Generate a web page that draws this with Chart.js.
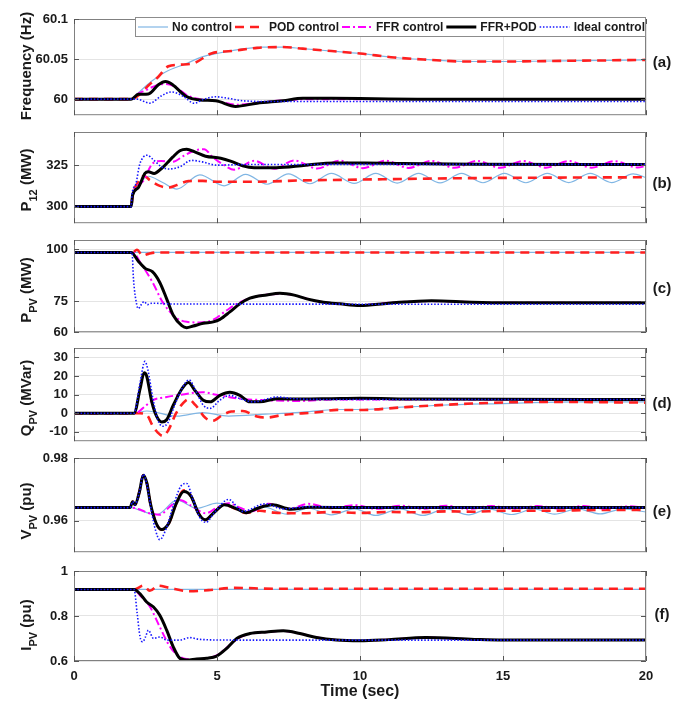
<!DOCTYPE html>
<html>
<head>
<meta charset="utf-8">
<script src="https://cdn.jsdelivr.net/npm/chart.js"></script>
<style>
  body { margin: 0; background: #fff; width: 680px; height: 704px; position: relative; overflow: hidden; }
  canvas { position: absolute; left: 0; }
</style>
</head>
<body>
<script>
// ---- data: [time (s), value] ----
const timeTicks = [0, 5, 10, 15, 20];
const seriesNames = ['No control', 'POD control', 'FFR control', 'FFR+POD', 'Ideal control'];

// (a) frequency (Hz)
const freqTicks = [60, 60.05, 60.1];
const freqNo = [[0,60],[2,60],[2.25,60.008],[2.7,60.022],[3.2,60.034],[3.9,60.044],[4.5,60.053],[5,60.057],[5.8,60.062],[6.6,60.065],[7.3,60.065],[8,60.063],[9,60.06],[10,60.057],[11.2,60.052],[12.5,60.049],[13.6,60.047],[15,60.047],[17.5,60.048],[20,60.049]];
const freqPod = [[0,60],[2,60],[2.3,60.006],[2.6,60.017],[2.95,60.028],[3.3,60.041],[3.7,60.043],[4.2,60.045],[4.8,60.057],[5.5,60.06],[6.4,60.064],[7.3,60.065],[8,60.063],[9,60.06],[10,60.057],[11.2,60.052],[12.5,60.049],[13.6,60.047],[15,60.047],[17.5,60.048],[20,60.049]];
const freqFfr = [[0,60],[2,60],[2.25,60.007],[2.5,60.011],[2.8,60.016],[3.2,60.019],[3.5,60.016],[4,60.004],[4.4,60.0],[4.95,59.998],[5.7,59.993],[6.5,59.996],[7.5,59.999],[8.5,60.0],[20,60.0]];
const freqBoth = [[0,60],[2,60],[2.25,60.006],[2.6,60.0065],[2.95,60.018],[3.2,60.022],[3.45,60.018],[3.9,60.004],[4.4,59.999],[4.95,59.998],[5.65,59.991],[6.4,59.995],[7.3,59.998],[8,60.001],[9,60.001],[10.5,60.0005],[12,60.0],[20,60.0]];
const freqIdeal = [[0,60],[2.2,60],[2.65,59.995],[3.05,60.004],[3.4,60.009],[3.8,60.004],[4.2,59.995],[4.55,60.0],[4.95,60.003],[5.4,60.001],[5.9,59.998],[7,59.997],[20,59.997]];

// (b) P12 (MW)
const p12Ticks = [300, 325];
const p12No = [[0,300],[2,300],[2.05,307],[2.3,314],[2.6,318.3],[3.1,314.5],[3.6,310.6],[4.4,319.2],[5.25,312.5],[6.0,319.5],[6.75,313.5],[7.5,319.8],[8.25,313.8],[9.0,320],[9.8,314],[10.55,320],[11.3,314.2],[12.05,320],[12.8,314.3],[13.55,320],[14.3,314.4],[15.05,320],[15.8,314.4],[16.55,320],[17.3,314.5],[18.05,320],[18.8,314.5],[19.55,319.8],[20,317.5]];
const p12Pod = [[0,300],[2,300],[2.05,307],[2.2,313.5],[2.45,318.5],[2.65,316],[3.0,312.5],[3.3,311.5],[3.6,313],[4.0,315.4],[4.5,315.5],[5,315],[6.3,315],[8,315.8],[10,316.3],[12,316.8],[14,317.2],[17,317.5],[20,317.7]];
const p12Ffr = [[0,300],[2,300],[2.05,307],[2.4,315],[2.75,326],[3.05,327.5],[3.45,327],[3.85,330.8],[4.3,334.2],[4.55,334.6],[4.85,329.8],[5.25,325],[5.6,322.3],[6.3,327.6],[7.0,322.8],[7.7,327.8],[8.5,323],[9.3,327.7],[10.1,323.2],[10.9,327.7],[11.7,323.3],[12.5,327.6],[13.3,323.4],[14.1,327.6],[14.9,323.4],[15.7,327.5],[16.5,323.5],[17.3,327.5],[18.1,323.5],[18.9,327.4],[19.7,323.6],[20,324.5]];
const p12Both = [[0,300],[2,300],[2.05,307],[2.25,311.5],[2.48,320],[2.6,321],[2.8,320],[3.06,323],[3.45,329.8],[3.7,333.7],[3.94,334.6],[4.22,333],[4.6,330.4],[5.13,329.2],[5.5,327.3],[5.9,324.6],[6.3,323.5],[7.07,323.5],[8.1,325],[9.1,326.3],[10.2,326.3],[11.5,326],[14,325.6],[20,325.4]];
const p12Ideal = [[0,300],[2,300],[2.03,307.7],[2.16,313.5],[2.29,325],[2.42,329.8],[2.57,331],[2.74,328.8],[3.06,324],[3.32,322.7],[3.7,324],[4.1,327.9],[4.48,327],[5.0,325],[6,325.4],[20,325.5]];

// (c) P_PV (MW)
const ppvTicks = [60, 75, 100];
const ppvNo = [[0,98.5],[20,98.5]];
const ppvPod = [[0,98.5],[2.05,98.5],[2.2,99.8],[2.4,97],[2.6,97.8],[2.9,98.5],[20,98.5]];
const ppvFfr = [[0,98.5],[2.05,98.5],[2.36,92.7],[2.75,84],[3.1,74.5],[3.57,67],[3.94,65],[4.4,64.7],[4.87,66],[5.34,70.6],[5.8,74.5],[6.5,77.6],[7.2,78.5],[7.7,77.9],[8.14,76.1],[8.72,74.5],[9.3,73.7],[10,73],[11,74.2],[12.5,75],[13.9,74.5],[15.1,74.2],[20,74.2]];
const ppvBoth = [[0,98.5],[2.0,98.5],[2.25,94.3],[2.5,90.7],[2.74,89.2],[3.0,84],[3.24,76.1],[3.47,68.2],[3.77,63.2],[3.94,62.2],[4.17,63],[4.52,64.3],[4.87,65],[5.1,66.2],[5.45,69.8],[5.8,73.7],[6.15,76.4],[6.74,78],[7.2,78.8],[7.7,77.9],[8.14,76.1],[8.72,74.5],[9.3,73.7],[10,72.9],[11,74],[12.5,75.2],[13.9,74.5],[15.1,74.2],[20,74.2]];
const ppvIdeal = [[0,98.5],[2.03,98.5],[2.08,85.6],[2.2,72.9],[2.25,71.4],[2.37,73.7],[2.45,74.8],[2.57,73.3],[2.72,74],[3.5,73.6],[20,73.5]];

// (d) Q_PV (MVar)
const qpvTicks = [-10, 0, 10, 20, 30];
const qpvNo = [[0,0],[2.1,0],[2.55,1.2],[3.6,-1.6],[4.5,0.3],[5.4,-1.5],[6.7,-0.5],[7.9,0.5],[9.2,2],[10,2],[11,2.8],[12.8,4.3],[15,5.2],[17.5,6.1],[20,6.1]];
const qpvPod = [[0,0],[2.3,0],[2.55,-1],[2.76,-7],[2.93,-10.4],[3.1,-12.2],[3.28,-9.6],[3.57,0],[3.8,5.2],[4.0,7.5],[4.25,4.3],[4.6,-2.6],[4.85,-4],[5.2,-0.9],[5.5,0.9],[5.9,1.2],[6.4,-1.7],[6.75,-2.3],[7.3,-0.9],[8.5,0.5],[9.2,1.8],[10,1.7],[11.6,3.3],[13.9,5.2],[16.3,6.1],[20,5.7]];
const qpvFfr = [[0,0],[2.15,0],[2.4,2.6],[2.76,7],[3.24,8.7],[3.8,10.1],[4.5,11.3],[4.98,9.9],[5.8,7.8],[6.7,7],[7.9,6.6],[9,7.4],[20,7.4]];
const qpvBoth = [[0,0],[2.1,0],[2.31,13],[2.45,21.7],[2.54,20],[2.72,6.1],[2.89,-1.7],[3.07,-4.7],[3.24,-3.5],[3.47,4.3],[3.77,13],[4.0,16.5],[4.23,12.2],[4.52,7],[4.76,6.1],[5.1,9.6],[5.45,11.3],[5.8,9.6],[6.15,6.1],[6.5,6.1],[7.1,7.8],[8,7.6],[9,7.8],[10,8],[12,7.6],[20,7.4]];
const qpvIdeal = [[0,0],[2.1,0],[2.31,16.5],[2.48,27.8],[2.58,23.5],[2.76,7.8],[2.93,-3.5],[3.1,-7],[3.28,-5.2],[3.5,3.5],[3.8,13.9],[4.02,17.9],[4.28,11.3],[4.52,4.3],[4.76,2.6],[5.1,7],[5.45,9.6],[5.8,7.8],[6.27,6.1],[7.1,8.7],[7.7,7.8],[9,7.4],[20,7.4]];

// (e) V_PV (pu)
const vpvTicks = [0.96, 0.98];
const vpvNo = [[0,0.9642],[2.0,0.9642],[2.4,0.963],[2.9,0.962],[3.6,0.9666],[4.3,0.964],[5.0,0.9656],[5.5,0.9645],[6.0,0.963],[6.6,0.9645],[7.45,0.9621],[8.2,0.964],[9.0,0.9619],[9.8,0.9638],[10.55,0.9617],[11.4,0.9638],[12.2,0.9617],[13.0,0.9638],[13.8,0.9619],[14.5,0.9638],[15.3,0.962],[16.1,0.9638],[16.8,0.9621],[17.6,0.9638],[18.4,0.9622],[19.2,0.9638],[20,0.9628]];
const vpvPod = [[0,0.9642],[1.96,0.9642],[2.05,0.9661],[2.13,0.9651],[2.29,0.9693],[2.42,0.9745],[2.55,0.9719],[2.67,0.9656],[2.87,0.9593],[3.06,0.9572],[3.32,0.9593],[3.58,0.9656],[3.84,0.9697],[4.1,0.9677],[4.35,0.9624],[4.59,0.9603],[4.87,0.9624],[5.26,0.9651],[5.65,0.9638],[6.0,0.9625],[6.5,0.9632],[7,0.9626],[8,0.9624],[9,0.9628],[10,0.9625],[11,0.9628],[12,0.9627],[13,0.963],[14,0.9629],[15,0.9632],[16.5,0.9632],[18,0.9634],[20,0.9635]];
const vpvFfr = [[0,0.9642],[2.0,0.9642],[2.3,0.9636],[2.6,0.9625],[3.0,0.9619],[3.35,0.9645],[3.7,0.9666],[4.1,0.9648],[4.6,0.9624],[5.0,0.9642],[5.4,0.9656],[5.8,0.9642],[6.2,0.963],[6.8,0.9654],[7.5,0.9638],[8.2,0.9654],[9,0.964],[9.8,0.965],[10.6,0.9638],[11.4,0.9648],[12.2,0.9638],[13,0.9648],[13.8,0.9638],[14.6,0.9647],[15.4,0.9638],[16.2,0.9647],[17,0.9639],[17.8,0.9647],[18.6,0.9639],[19.4,0.9646],[20,0.9642]];
const vpvBoth = [[0,0.9642],[1.96,0.9642],[2.05,0.9661],[2.13,0.9651],[2.29,0.9693],[2.42,0.9745],[2.55,0.9719],[2.67,0.9656],[2.87,0.9593],[3.06,0.9572],[3.32,0.9593],[3.58,0.9656],[3.84,0.9693],[4.1,0.9677],[4.35,0.9624],[4.59,0.9603],[4.87,0.9624],[5.26,0.9651],[5.65,0.964],[6.03,0.9626],[6.42,0.964],[6.94,0.9651],[7.58,0.9637],[8.23,0.9643],[10,0.9642],[20,0.9642]];
const vpvIdeal = [[0,0.9642],[1.96,0.9642],[2.05,0.9661],[2.13,0.9651],[2.29,0.9693],[2.42,0.9748],[2.55,0.9715],[2.7,0.9635],[2.85,0.957],[3.0,0.954],[3.2,0.957],[3.5,0.9656],[3.75,0.9712],[3.94,0.9719],[4.15,0.967],[4.4,0.961],[4.61,0.9595],[4.9,0.9625],[5.4,0.9668],[5.9,0.963],[6.68,0.9654],[7.3,0.9638],[8.2,0.9645],[10,0.9642],[20,0.9642]];

// (f) I_PV (pu)
const ipvTicks = [0.6, 0.8, 1];
const ipvNo = [[0,0.918],[20,0.918]];
const ipvPod = [[0,0.918],[2.1,0.918],[2.43,0.935],[2.65,0.912],[2.95,0.935],[3.3,0.926],[4.05,0.91],[4.7,0.915],[5.6,0.925],[7,0.921],[20,0.921]];
const ipvFfr = [[0,0.918],[2.1,0.918],[2.31,0.891],[2.66,0.84],[3.0,0.751],[3.36,0.663],[3.7,0.619],[4.17,0.607],[4.64,0.612],[5.0,0.626],[5.45,0.671],[5.8,0.705],[6.2,0.722],[6.8,0.729],[7.3,0.734],[7.9,0.722],[8.5,0.704],[9.2,0.693],[10,0.689],[11,0.695],[12.3,0.704],[14,0.696],[15,0.693],[20,0.693]];
const ipvBoth = [[0,0.918],[2.1,0.918],[2.31,0.8985],[2.54,0.862],[2.78,0.84],[3.0,0.803],[3.24,0.737],[3.47,0.663],[3.7,0.612],[3.94,0.604],[4.29,0.609],[4.64,0.612],[4.99,0.622],[5.34,0.656],[5.69,0.7],[6.15,0.722],[6.74,0.729],[7.32,0.734],[7.9,0.722],[8.48,0.704],[9.18,0.693],[10,0.69],[11,0.695],[12.3,0.704],[14,0.696],[15,0.693],[20,0.693]];
const ipvIdeal = [[0,0.918],[2.1,0.918],[2.21,0.81],[2.31,0.707],[2.4,0.685],[2.5,0.707],[2.6,0.737],[2.78,0.7],[3.0,0.707],[3.24,0.693],[3.7,0.693],[4.05,0.704],[4.4,0.696],[5.5,0.693],[20,0.693]];

// ---- layout / style ----
const FONT = "'Liberation Sans', Arial, sans-serif";
const INK = '#1a1a1a';
const styles = [
  { color: '#80b6e4', width: 1.2, dash: [], order: 5 },
  { color: '#ff1f1f', width: 2.6, dash: [9, 6], order: 4 },
  { color: '#ff00ff', width: 2, dash: [8, 3, 2, 3], order: 3 },
  { color: '#000000', width: 3, dash: [], order: 2 },
  { color: '#1515ff', width: 1.6, dash: [1.5, 1.8], order: 1 }
];

const panels = [
  { tag: '(a)', top: 19, bottom: 117, min: 59.98, max: 60.1, ticks: freqTicks, title: ['Frequency (Hz)'], titleY: 66, tagY: 63,
    series: [freqNo, freqPod, freqFfr, freqBoth, freqIdeal] },
  { tag: '(b)', top: 132, bottom: 225, min: 290, max: 345, ticks: p12Ticks, title: ['P', '12', ' (MW)'], titleY: 180, tagY: 184,
    series: [p12No, p12Pod, p12Ffr, p12Both, p12Ideal] },
  { tag: '(c)', top: 240, bottom: 334, min: 60, max: 104.5, ticks: ppvTicks, title: ['P', 'PV', ' (MW)'], titleY: 290, tagY: 289,
    series: [ppvNo, ppvPod, ppvFfr, ppvBoth, ppvIdeal] },
  { tag: '(d)', top: 348, bottom: 443, min: -15, max: 35, ticks: qpvTicks, title: ['Q', 'PV', ' (MVar)'], titleY: 398, tagY: 404,
    series: [qpvNo, qpvPod, qpvFfr, qpvBoth, qpvIdeal] },
  { tag: '(e)', top: 458, bottom: 554, min: 0.95, max: 0.98, ticks: vpvTicks, title: ['V', 'PV', ' (pu)'], titleY: 511, tagY: 512,
    series: [vpvNo, vpvPod, vpvFfr, vpvBoth, vpvIdeal] },
  { tag: '(f)', top: 571, bottom: 661, min: 0.6, max: 1, ticks: ipvTicks, title: ['I', 'PV', ' (pu)'], titleY: 625, tagY: 615,
    series: [ipvNo, ipvPod, ipvFfr, ipvBoth, ipvIdeal] }
];

function deco(p, off, first, last) {
  return {
    id: 'deco',
    afterDraw(chart) {
      const ctx = chart.ctx, a = chart.chartArea;
      const xs = chart.scales.x, ys = chart.scales.y;
      ctx.save();
      // axes box + inward ticks
      ctx.strokeStyle = '#808080';
      ctx.lineWidth = 1;
      ctx.strokeRect(a.left + 0.5, a.top + 0.5, a.right - a.left - 1, a.bottom - a.top - 1);
      ctx.strokeStyle = '#555';
      ctx.beginPath();
      timeTicks.forEach(v => {
        const x = Math.round(xs.getPixelForValue(v)) + 0.5;
        ctx.moveTo(x, a.bottom); ctx.lineTo(x, a.bottom - 5);
        ctx.moveTo(x, a.top); ctx.lineTo(x, a.top + 5);
      });
      p.ticks.forEach(v => {
        const y = Math.round(ys.getPixelForValue(v)) + 0.5;
        ctx.moveTo(a.left, y); ctx.lineTo(a.left + 5, y);
        ctx.moveTo(a.right, y); ctx.lineTo(a.right - 5, y);
      });
      ctx.stroke();

      // y title with subscript
      ctx.fillStyle = INK;
      ctx.textBaseline = 'middle';
      ctx.textAlign = 'left';
      ctx.save();
      ctx.translate(26.5, p.titleY - off);
      ctx.rotate(-Math.PI / 2);
      const parts = p.title.map((s, i) => ({ s: s, sub: i % 2 === 1 }));
      let total = 0;
      parts.forEach(q => {
        ctx.font = (q.sub ? 'bold 11px ' : 'bold 15px ') + FONT;
        q.w = ctx.measureText(q.s).width;
        total += q.w;
      });
      let cx = -total / 2;
      parts.forEach(q => {
        ctx.font = (q.sub ? 'bold 11px ' : 'bold 15px ') + FONT;
        ctx.fillText(q.s, cx, q.sub ? 7 : 0);
        cx += q.w;
      });
      ctx.restore();

      // panel tag
      ctx.font = 'bold 15px ' + FONT;
      ctx.textAlign = 'center';
      ctx.fillText(p.tag, 662, p.tagY - off);

      if (last) {
        ctx.font = 'bold 16px ' + FONT;
        ctx.fillText('Time (sec)', 360, 692 - off);
      }

      if (first) {
        const lx = 135, ly = 17 - off, lw = 511, lh = 20;
        ctx.fillStyle = '#fff';
        ctx.fillRect(lx, ly, lw, lh);
        ctx.strokeStyle = '#8c8c8c';
        ctx.lineWidth = 1;
        ctx.strokeRect(lx + 0.5, ly + 0.5, lw - 1, lh - 1);
        ctx.font = 'bold 12px ' + FONT;
        ctx.textAlign = 'left';
        const cy = ly + lh / 2;
        let x = lx + 3;
        styles.forEach((st, i) => {
          ctx.beginPath();
          ctx.setLineDash(st.dash);
          ctx.lineWidth = st.width;
          ctx.strokeStyle = st.color;
          ctx.moveTo(x, cy); ctx.lineTo(x + 30, cy);
          ctx.stroke();
          ctx.setLineDash([]);
          ctx.fillStyle = INK;
          ctx.fillText(seriesNames[i], x + 34, cy + 0.5);
          x += 34 + ctx.measureText(seriesNames[i]).width + 3;
        });
      }
      ctx.restore();
    }
  };
}

panels.forEach((p, idx) => {
  const first = idx === 0, last = idx === panels.length - 1;
  const bandTop = first ? 0 : p.top - 14;
  const bandBottom = last ? 704 : p.bottom + 12;
  const xh = last ? 43 : 0;
  const cv = document.createElement('canvas');
  cv.width = 680;
  cv.height = bandBottom - bandTop;
  cv.style.top = bandTop + 'px';
  document.body.appendChild(cv);

  new Chart(cv.getContext('2d'), {
    type: 'line',
    data: {
      datasets: p.series.map((s, i) => ({
        label: seriesNames[i],
        data: s.map(d => ({ x: d[0], y: d[1] })),
        borderColor: styles[i].color,
        borderWidth: styles[i].width,
        borderDash: styles[i].dash,
        order: styles[i].order,
        pointRadius: 0,
        fill: false,
        cubicInterpolationMode: 'monotone'
      }))
    },
    options: {
      responsive: false,
      animation: false,
      events: [],
      layout: { padding: { top: p.top - bandTop, bottom: bandBottom - p.bottom - xh, left: 0, right: 680 - 646 } },
      plugins: { legend: { display: false }, tooltip: { enabled: false } },
      scales: {
        x: {
          type: 'linear', min: 0, max: 20,
          afterBuildTicks: s => { s.ticks = timeTicks.map(v => ({ value: v })); },
          afterFit: s => { s.height = xh; },
          grid: { color: '#e4e4e4', drawTicks: false },
          border: { display: false },
          ticks: { display: last, padding: 8, maxRotation: 0, color: INK,
                   font: { family: FONT, size: 13, weight: 'bold' }, callback: v => String(v) }
        },
        y: {
          type: 'linear', min: p.min, max: p.max,
          afterBuildTicks: s => { s.ticks = p.ticks.map(v => ({ value: v })); },
          afterFit: s => { s.width = 74; },
          grid: { color: '#e4e4e4', drawTicks: false },
          border: { display: false },
          ticks: { padding: 6, color: INK,
                   font: { family: FONT, size: 13, weight: 'bold' }, callback: v => String(v) }
        }
      }
    },
    plugins: [deco(p, bandTop, first, last)]
  });
});
</script>
</body>
</html>
